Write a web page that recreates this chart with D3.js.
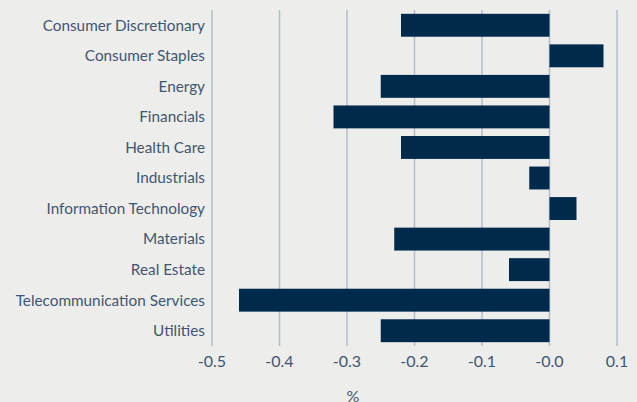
<!DOCTYPE html>
<html><head><meta charset="utf-8">
<script src="https://cdn.jsdelivr.net/npm/d3@7"></script>
<style>
html,body{margin:0;padding:0;background:#ededeb;}
svg{display:block;}
text{font-family:"Lato",sans-serif;fill:#3f5673;font-weight:400;}
</style></head>
<body><svg id="c" width="637" height="402"></svg>
<script>
const categories = ["Consumer Discretionary","Consumer Staples","Energy","Financials","Health Care","Industrials","Information Technology","Materials","Real Estate","Telecommunication Services","Utilities"];
const values = [-0.22, 0.08, -0.25, -0.32, -0.22, -0.03, 0.04, -0.23, -0.06, -0.46, -0.25];
const tickValues = [-0.5, -0.4, -0.3, -0.2, -0.1, 0.0, 0.1];
const tickLabels = ["-0.5","-0.4","-0.3","-0.2","-0.1","-0.0","0.1"];
const axisTitle = "%";

const svg = d3.select("#c");
const x = d3.scaleLinear().domain([-0.5, 0.1]).range([212, 617]);
const y = d3.scaleBand().domain(categories).range([10, 346]).paddingInner(0.25).paddingOuter(0.125);

svg.append("g").selectAll("line").data(tickValues).join("line")
  .attr("x1", d => x(d)).attr("x2", d => x(d))
  .attr("y1", 10).attr("y2", 346)
  .attr("stroke", "#b3bccb").attr("stroke-width", 1.5);

svg.append("g").selectAll("rect").data(categories).join("rect")
  .attr("x", (d,i) => Math.min(x(0), x(values[i])))
  .attr("width", (d,i) => Math.abs(x(values[i]) - x(0)))
  .attr("y", d => y(d)).attr("height", y.bandwidth())
  .attr("fill", "#002a4c");

svg.append("g").selectAll("text").data(categories).join("text")
  .attr("x", 205).attr("y", d => y(d) + y.bandwidth()/2)
  .attr("dy", "0.35em").attr("text-anchor", "end")
  .attr("font-size", 15.3).text(d => d);

svg.append("g").selectAll("text").data(tickValues).join("text")
  .attr("x", d => x(d)).attr("y", 361).attr("dy", "0.35em")
  .attr("text-anchor", "middle").attr("font-size", 16)
  .text((d,i) => tickLabels[i]);

svg.append("text").attr("x", 353).attr("y", 396).attr("dy","0.35em")
  .attr("text-anchor","middle").attr("font-size",16).text(axisTitle);
</script></body></html>
